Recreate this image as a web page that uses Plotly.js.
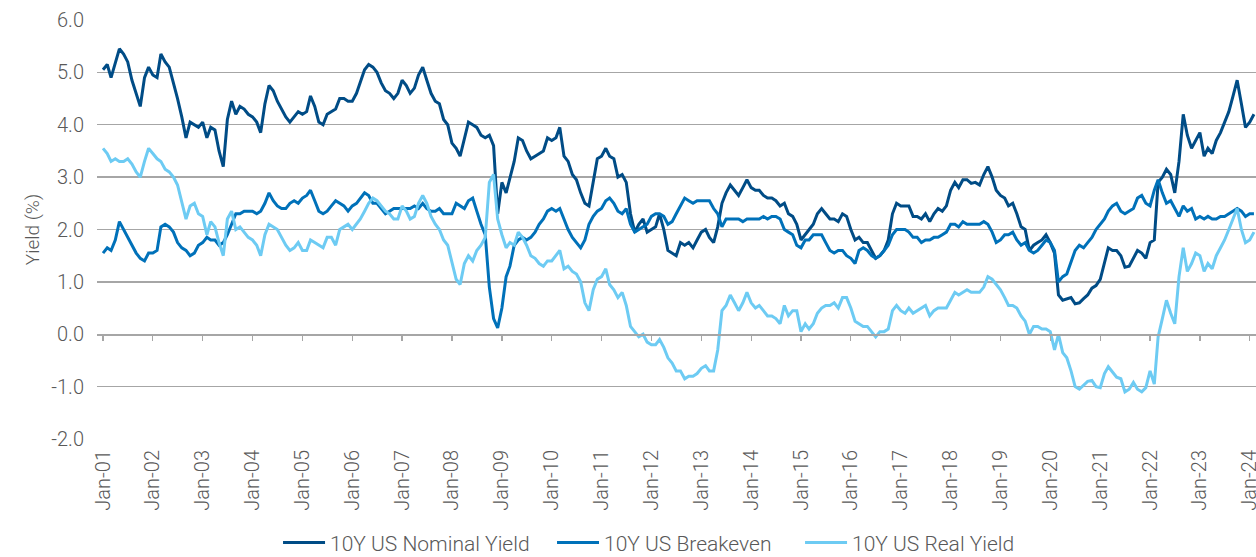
<!DOCTYPE html>
<html>
<head>
<meta charset="utf-8">
<script src="https://cdn.plot.ly/plotly-3.0.1.min.js"></script>
<style>
  html, body { margin: 0; padding: 0; background: #ffffff; }
  #chart { width: 1256px; height: 557px; }
</style>
</head>
<body>
<div id="chart"></div>
<script>
// Monthly observations, Jan 2001 .. Feb 2024
const startYear = 2001;
const endYear = 2024;
const endMonth = 2;

const seriesNames = ["10Y US Nominal Yield", "10Y US Breakeven", "10Y US Real Yield"];

const yTickValues = [-2, -1, 0, 1, 2, 3, 4, 5, 6];
const yTickLabels = yTickValues.map(v => v.toFixed(1));

const nominalYield = [
  5.05,5.15,4.90,5.20,5.45,5.35,5.20,4.85,4.60,4.35,4.90,5.10,
  4.95,4.90,5.35,5.20,5.10,4.80,4.50,4.15,3.75,4.05,4.00,3.95,
  4.05,3.75,3.95,3.90,3.50,3.20,4.10,4.45,4.20,4.35,4.30,4.20,
  4.15,4.05,3.85,4.40,4.75,4.65,4.45,4.30,4.15,4.05,4.15,4.25,
  4.20,4.25,4.55,4.35,4.05,4.00,4.20,4.25,4.30,4.50,4.50,4.45,
  4.45,4.60,4.80,5.05,5.15,5.10,5.00,4.80,4.65,4.60,4.50,4.60,
  4.85,4.75,4.60,4.70,4.95,5.10,4.85,4.60,4.45,4.40,4.10,4.00,
  3.65,3.55,3.40,3.75,4.05,4.00,3.95,3.80,3.75,3.80,3.60,2.30,
  2.90,2.70,3.00,3.30,3.75,3.70,3.50,3.35,3.40,3.45,3.50,3.75,
  3.70,3.75,3.95,3.40,3.30,3.05,2.95,2.70,2.50,2.45,2.90,3.35,
  3.40,3.55,3.40,3.35,3.00,3.05,2.90,2.30,1.95,2.10,2.20,1.95,
  2.00,2.05,2.30,2.00,1.60,1.55,1.50,1.75,1.70,1.75,1.65,1.80,
  1.95,2.00,1.85,1.75,2.05,2.50,2.70,2.85,2.75,2.65,2.80,2.95,
  2.80,2.75,2.75,2.65,2.60,2.60,2.55,2.45,2.50,2.30,2.25,2.10,
  1.80,1.90,2.00,2.10,2.30,2.40,2.30,2.20,2.20,2.15,2.30,2.25,
  2.00,1.80,1.85,1.75,1.75,1.60,1.45,1.50,1.60,1.80,2.30,2.50,
  2.45,2.45,2.45,2.25,2.25,2.20,2.30,2.15,2.30,2.40,2.35,2.45,
  2.75,2.90,2.80,2.95,2.95,2.88,2.90,2.85,3.05,3.20,3.00,2.75,
  2.65,2.60,2.45,2.50,2.30,2.05,2.00,1.60,1.70,1.75,1.80,1.90,
  1.75,1.55,0.75,0.65,0.68,0.70,0.58,0.60,0.68,0.75,0.88,0.93,
  1.05,1.35,1.65,1.60,1.60,1.50,1.28,1.30,1.45,1.60,1.55,1.45,
  1.75,1.80,2.90,3.00,3.15,3.05,2.70,3.30,4.20,3.80,3.55,3.70,
  3.85,3.40,3.55,3.45,3.70,3.85,4.05,4.25,4.55,4.85,4.40,3.95,
  4.05,4.20
];

const breakeven = [
  1.55,1.65,1.60,1.80,2.15,2.00,1.85,1.70,1.55,1.45,1.40,1.55,
  1.55,1.60,2.05,2.10,2.05,1.95,1.75,1.65,1.60,1.50,1.55,1.70,
  1.75,1.85,1.80,1.80,1.70,1.75,1.90,2.10,2.30,2.30,2.35,2.35,
  2.35,2.30,2.35,2.50,2.70,2.55,2.45,2.40,2.40,2.50,2.55,2.50,
  2.60,2.65,2.75,2.55,2.35,2.30,2.35,2.45,2.55,2.50,2.45,2.35,
  2.45,2.50,2.60,2.70,2.65,2.50,2.50,2.40,2.30,2.35,2.40,2.40,
  2.40,2.40,2.40,2.45,2.40,2.50,2.40,2.35,2.35,2.40,2.30,2.30,
  2.30,2.50,2.45,2.40,2.55,2.60,2.35,2.10,1.90,0.90,0.30,0.12,
  0.50,1.10,1.30,1.70,1.80,1.85,1.80,1.85,1.95,2.10,2.20,2.35,
  2.40,2.35,2.40,2.20,2.00,1.85,1.75,1.65,1.80,2.10,2.25,2.35,
  2.40,2.55,2.60,2.50,2.35,2.30,2.40,2.10,1.95,2.00,2.05,2.10,
  2.25,2.30,2.30,2.25,2.10,2.15,2.30,2.45,2.60,2.55,2.50,2.55,
  2.55,2.55,2.55,2.40,2.30,2.05,2.20,2.20,2.20,2.20,2.15,2.20,
  2.20,2.20,2.20,2.25,2.20,2.25,2.25,2.20,2.00,1.95,1.90,1.70,
  1.65,1.80,1.80,1.90,1.90,1.90,1.75,1.60,1.55,1.60,1.60,1.50,
  1.45,1.35,1.60,1.65,1.60,1.50,1.45,1.50,1.60,1.70,1.90,2.00,
  2.00,2.00,1.95,1.85,1.85,1.75,1.80,1.80,1.85,1.85,1.90,1.95,
  2.10,2.10,2.05,2.15,2.10,2.10,2.10,2.10,2.15,2.10,1.95,1.75,
  1.80,1.90,1.90,1.95,1.80,1.70,1.75,1.60,1.55,1.60,1.70,1.80,
  1.75,1.60,1.00,1.10,1.15,1.40,1.60,1.70,1.65,1.75,1.85,2.00,
  2.10,2.20,2.35,2.45,2.50,2.35,2.30,2.35,2.40,2.60,2.65,2.50,
  2.45,2.75,2.95,2.70,2.50,2.55,2.40,2.25,2.45,2.35,2.40,2.20,
  2.25,2.20,2.25,2.20,2.20,2.25,2.25,2.30,2.35,2.40,2.35,2.25,
  2.30,2.30
];

const realYield = [
  3.55,3.45,3.30,3.35,3.30,3.30,3.35,3.25,3.10,3.00,3.30,3.55,
  3.45,3.35,3.30,3.15,3.10,3.00,2.85,2.55,2.20,2.45,2.50,2.30,
  2.25,1.90,2.15,2.05,1.75,1.50,2.20,2.35,2.00,2.05,1.95,1.85,
  1.80,1.70,1.50,1.90,2.10,2.05,2.00,1.85,1.70,1.60,1.65,1.75,
  1.60,1.60,1.80,1.75,1.70,1.65,1.85,1.85,1.70,2.00,2.05,2.10,
  2.00,2.10,2.20,2.35,2.50,2.60,2.55,2.45,2.35,2.30,2.20,2.20,
  2.45,2.35,2.20,2.25,2.50,2.65,2.50,2.25,2.10,2.00,1.80,1.70,
  1.35,1.05,0.95,1.35,1.50,1.40,1.60,1.70,1.85,2.90,3.05,2.20,
  1.90,1.65,1.75,1.70,1.95,1.85,1.70,1.50,1.45,1.35,1.30,1.40,
  1.40,1.50,1.60,1.25,1.30,1.20,1.15,1.00,0.60,0.45,0.85,1.05,
  1.10,1.25,0.95,0.85,0.70,0.80,0.55,0.15,0.05,-0.05,0.00,-0.15,
  -0.20,-0.20,-0.10,-0.25,-0.45,-0.55,-0.70,-0.70,-0.85,-0.80,-0.80,-0.75,
  -0.65,-0.60,-0.70,-0.70,-0.30,0.45,0.55,0.75,0.60,0.45,0.60,0.80,
  0.60,0.50,0.55,0.45,0.35,0.35,0.30,0.20,0.55,0.35,0.45,0.45,
  0.05,0.20,0.10,0.20,0.40,0.50,0.55,0.55,0.60,0.50,0.70,0.70,
  0.50,0.25,0.20,0.15,0.15,0.05,-0.05,0.05,0.05,0.10,0.45,0.55,
  0.45,0.40,0.50,0.40,0.45,0.50,0.55,0.35,0.45,0.50,0.50,0.50,
  0.65,0.80,0.75,0.80,0.85,0.80,0.80,0.80,0.90,1.10,1.05,0.95,
  0.85,0.70,0.55,0.55,0.50,0.35,0.25,0.00,0.15,0.15,0.10,0.10,
  0.05,-0.30,0.00,-0.35,-0.45,-0.70,-1.00,-1.05,-0.98,-0.90,-0.88,-1.00,
  -1.02,-0.75,-0.62,-0.72,-0.82,-0.85,-1.10,-1.05,-0.92,-1.05,-1.10,-1.02,
  -0.70,-0.95,-0.05,0.30,0.65,0.40,0.20,1.10,1.65,1.20,1.35,1.55,
  1.50,1.20,1.35,1.25,1.50,1.65,1.80,2.00,2.20,2.40,2.00,1.75,
  1.80,1.95
];

const seriesColors = ["#004C86", "#0071B9", "#6DCBF3"];

// month dates (first of month)
const dates = [];
for (let y = startYear; y <= endYear; y++) {
  for (let m = 1; m <= 12; m++) {
    if (y === endYear && m > endMonth) break;
    dates.push(y + "-" + String(m).padStart(2, "0") + "-01");
  }
}

const fontFam = "Roboto, 'Open Sans', sans-serif";
const grey = "#595959";
const gridGrey = "#a6a6a6";

const legendIds = ["legend", "legend2", "legend3"];
const legendX = [0.1562, 0.3926, 0.6066];

const seriesData = [nominalYield, breakeven, realYield];
const traces = seriesData.map((vals, i) => ({
  type: "scatter",
  mode: "lines",
  name: seriesNames[i],
  legend: legendIds[i],
  x: dates,
  y: vals,
  line: { color: seriesColors[i], width: 3 },
  hoverinfo: "skip"
}));
// helper trace so the zero-line tick axis is drawn
traces.push({ type: "scatter", mode: "lines", x: [], y: [], xaxis: "x2", yaxis: "y", showlegend: false, hoverinfo: "skip" });

const xRange = ["2000-11-18", "2024-02-16"];

function legendBox(x) {
  return {
    orientation: "h",
    x: x, xanchor: "left",
    y: -0.248, yanchor: "middle",
    itemwidth: 42,
    font: { family: fontFam, size: 21, color: grey, weight: 300 },
    bgcolor: "rgba(0,0,0,0)"
  };
}

const layout = {
  width: 1256,
  height: 557,
  margin: { l: 97, r: 0, t: 20, b: 118, pad: 0, autoexpand: false },
  paper_bgcolor: "#ffffff",
  plot_bgcolor: "#ffffff",
  font: { family: fontFam, color: grey, size: 20, weight: 300 },
  showlegend: true,
  legend: legendBox(legendX[0]),
  legend2: legendBox(legendX[1]),
  legend3: legendBox(legendX[2]),
  xaxis: {
    type: "date",
    range: xRange,
    tick0: "2001-01-01",
    dtick: "M12",
    tickformat: "%b-%y",
    tickangle: -90,
    ticks: "",
    showgrid: false,
    zeroline: false,
    showline: false,
    ticklabelstandoff: 6,
    ticklabeloverflow: "allow",
    tickfont: { family: fontFam, size: 20, color: grey, weight: 300 },
    fixedrange: true
  },
  xaxis2: {
    type: "date",
    overlaying: "x",
    matches: "x",
    range: xRange,
    tick0: "2001-01-01",
    dtick: "M12",
    anchor: "free",
    position: 0.25,
    side: "bottom",
    showticklabels: false,
    ticks: "outside",
    ticklen: 5,
    tickwidth: 1.3,
    tickcolor: gridGrey,
    showline: true,
    linecolor: gridGrey,
    linewidth: 1.3,
    showgrid: false,
    zeroline: false
  },
  yaxis: {
    range: [-2, 6],
    tickmode: "array",
    tickvals: yTickValues,
    ticktext: yTickLabels,
    showgrid: true,
    gridcolor: gridGrey,
    gridwidth: 1.3,
    zeroline: false,
    showline: false,
    ticks: "",
    ticklabelstandoff: 12,
    tickfont: { family: fontFam, size: 20, color: grey, weight: 300 },
    title: { text: "Yield (%)", font: { family: fontFam, size: 19, color: grey, weight: 300 }, standoff: 6 },
    fixedrange: true
  }
};

Plotly.newPlot("chart", traces, layout, { displayModeBar: false, staticPlot: true });
</script>
</body>
</html>
